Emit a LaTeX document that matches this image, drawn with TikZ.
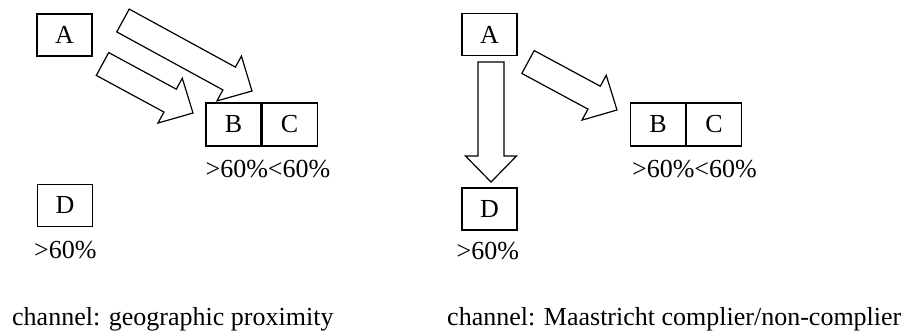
\documentclass[tikz,border=0pt]{standalone}
\usepackage{fontspec}
\setmainfont{Liberation Serif}
\usetikzlibrary{positioning,calc}

% fat hollow arrow from tail #1 to tip #2
\newcommand{\blockarrow}[2]{%
  \coordinate (#1base) at ($(#2)!26pt!(#1)$);
  \draw [fat] ($(#1)!13pt!90:(#2)$) -- ($(#1base)!13pt!90:(#2)$)
    -- ($(#1base)!25.5pt!90:(#2)$) -- (#2)
    -- ($(#1base)!25.5pt!-90:(#2)$) -- ($(#1base)!13pt!-90:(#2)$)
    -- ($(#1)!13pt!-90:(#2)$) -- cycle;}

\begin{document}
\begin{tikzpicture}[
    x=1pt, y=-1pt,
    every node/.style={font=\fontsize{26}{31}\selectfont},
    box/.style={
        rectangle,
        draw,
        line width=1.1pt,
        minimum width=55pt,
        minimum height=42pt,
        inner sep=0pt
    },
    share/.style={anchor=base west, inner sep=0pt},
    fat/.style={draw, line width=1.2pt, line join=miter, fill=white}
]
\useasboundingbox (0,0) rectangle (904,335);

% Left: geographic proximity
\node [box] (geoA) at (64.5,35) {A};
\node [box, minimum height=43pt] (geoB) at (233.5,124.5) {B};
\node [box, minimum height=43pt, right=0pt of geoB] (geoC) {C};
\node [box] (geoD) at (65,205.5) {D};

\node [share] (geoBCshare) at ($(geoB.south west)+(0,31)$) {>60\%<60\%};
\node [share] (geoDshare) at ($(geoD.south west)+(-3,31)$) {>60\%};

\coordinate (geotailA) at (123,20.5);
\coordinate (geotipA) at (252,91);
\coordinate (geotailB) at (102.5,64);
\coordinate (geotipB) at (193,113);
\blockarrow{geotailA}{geotipA}
\blockarrow{geotailB}{geotipB}

% Right: Maastricht complier / non-complier
\node [box] (mA) at (489.5,34.5) {A};
\node [box, minimum height=43pt] (mB) at (658,124.5) {B};
\node [box, minimum height=43pt, right=0pt of mB] (mC) {C};
\node [box] (mD) at (489.5,209) {D};

\node [share] (mBCshare) at ($(mB.south west)+(2,31)$) {>60\%<60\%};
\node [share] (mDshare) at ($(mD.south west)+(-5,29)$) {>60\%};

\coordinate (mtailD) at (491,62);
\coordinate (mtipD) at (491,182);
\coordinate (mtailB) at (528,62);
\coordinate (mtipB) at (617,110);
\blockarrow{mtailD}{mtipD}
\blockarrow{mtailB}{mtipB}

% Captions
\node [share] (geocap) at (12,325) {channel: geographic proximity};
\node [share] (mcap) at (447,325) {channel: Maastricht complier/non-complier};

\end{tikzpicture}
\end{document}
